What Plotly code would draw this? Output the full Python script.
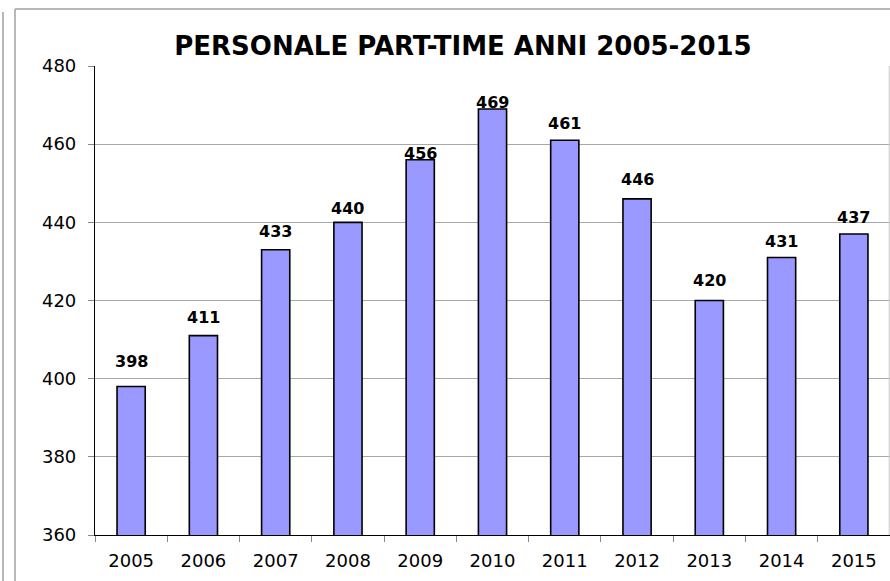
import plotly.graph_objects as go

years = ["2005", "2006", "2007", "2008", "2009", "2010", "2011", "2012", "2013", "2014", "2015"]
staff = [398, 411, 433, 440, 456, 469, 461, 446, 420, 431, 437]
y_ticks = [360, 380, 400, 420, 440, 460, 480]

# per-label vertical offsets (px) as placed in the original chart
label_shift = [19, 13, 13, 8, 1, 1, 11, 14, 15, 11, 11]

FONT = "DejaVu Sans"

fig = go.Figure()
fig.add_trace(go.Bar(
    x=years, y=staff,
    marker=dict(color="#9999FF", line=dict(color="black", width=1.6)),
    hoverinfo="x+y",
))

for i, (v, s) in enumerate(zip(staff, label_shift)):
    fig.add_annotation(
        x=i, y=v, text=f"<b>{v}</b>", showarrow=False,
        yanchor="bottom", yshift=s - 6,
        font=dict(family=FONT, size=16, color="black"),
    )

TOP = (581 - 9 - 46) / 469
TOP2 = (581 - 12 - 46) / 469

fig.update_layout(
    width=890, height=581,
    margin=dict(l=95, r=0, t=66, b=46, autoexpand=False),
    paper_bgcolor="white", plot_bgcolor="white",
    bargap=0.61,
    showlegend=False,
    title=dict(
        text="<b>PERSONALE PART-TIME ANNI 2005-2015</b>",
        font=dict(family=FONT, size=26, color="black"),
        x=463 / 890, xanchor="center", xref="container",
        y=1 - 46 / 581, yanchor="middle", yref="container",
    ),
    font=dict(family=FONT, color="black"),
    shapes=[
        dict(type="line", xref="paper", yref="paper", x0=-80 / 795, x1=-80 / 795,
             y0=-1, y1=TOP, line=dict(color="#A0A0A0", width=1.5)),
        dict(type="line", xref="paper", yref="paper", x0=-80 / 795, x1=1.05,
             y0=TOP, y1=TOP, line=dict(color="#A0A0A0", width=1.5)),
        dict(type="line", xref="paper", yref="paper", x0=-92 / 795, x1=-92 / 795,
             y0=-1, y1=TOP2, line=dict(color="#A0A0A0", width=1.5)),
        dict(type="line", xref="paper", yref="paper", x0=0.999, x1=0.999,
             y0=0, y1=1, line=dict(color="#C8C8C8", width=1)),
    ],
)

fig.update_xaxes(
    type="category", range=[-0.5, len(years) - 0.5],
    showline=True, linecolor="black", linewidth=1.2,
    ticks="outside", ticklen=6, tickcolor="#888888", tickson="boundaries",
    tickfont=dict(family=FONT, size=18, color="black"),
    tickangle=0, automargin=False,
    ticklabelstandoff=9,
    showgrid=False,
)
fig.update_yaxes(
    range=[360, 480], tickvals=y_ticks,
    showline=True, linecolor="black", linewidth=1.2,
    ticks="outside", ticklen=6, tickcolor="#888888",
    tickfont=dict(family=FONT, size=18, color="black"),
    ticklabelstandoff=8, automargin=False,
    showgrid=True, gridcolor="#A8A8A8", gridwidth=1,
    zeroline=False,
)

fig.write_html(
    "out.html",
    config={"displayModeBar": False},
    post_script="document.body.style.margin='0';document.body.style.overflow='hidden';",
)
